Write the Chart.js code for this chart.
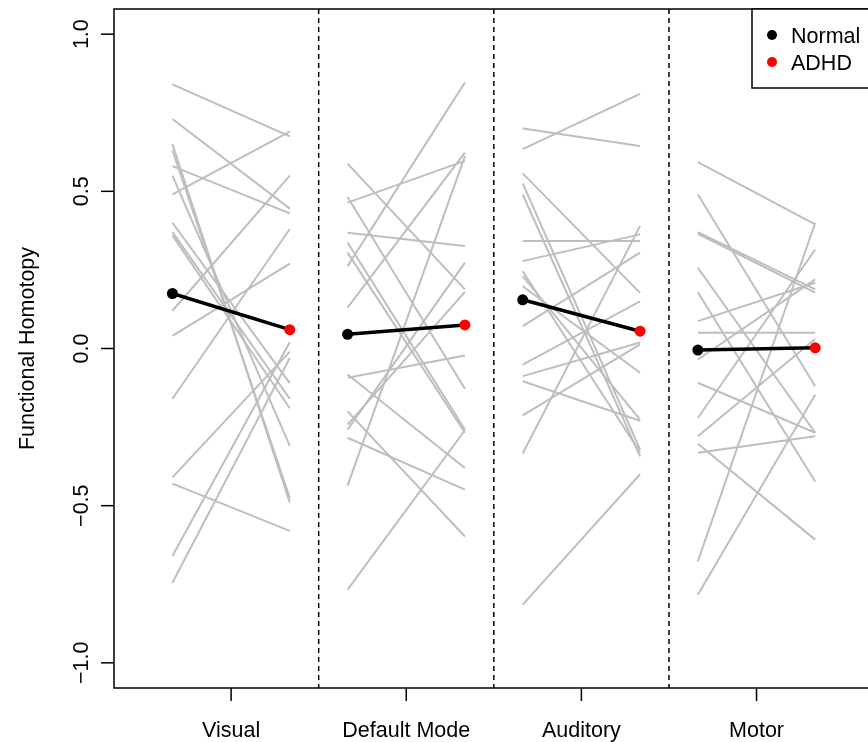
<!DOCTYPE html>
<html>
<head>
<meta charset="utf-8">
<script src="https://cdn.jsdelivr.net/npm/chart.js@4.4.0/dist/chart.umd.min.js"></script>
<style>
  html, body { margin: 0; padding: 0; background: #fff; overflow: hidden; }
  canvas { display: block; }
</style>
</head>
<body>
<canvas id="c" width="868" height="742"></canvas>
<script>
// Networks along the x axis
const networks = ['Visual', 'Default Mode', 'Auditory', 'Motor'];
const yTicks = [-1.0, -0.5, 0.0, 0.5, 1.0];
const yTickLabels = ['\u22121.0', '\u22120.5', '0.0', '0.5', '1.0'];

// Paired functional homotopy values (Normal -> ADHD) for each network
const visualNormal = [0.84, 0.73, 0.65, 0.63, 0.58, 0.55, 0.49, 0.40, 0.37, 0.36, 0.12, 0.04, -0.16, -0.41, -0.43, -0.66, -0.745];
const visualADHD   = [0.675, 0.445, -0.49, -0.475, 0.43, -0.31, 0.69, -0.11, -0.16, -0.19, 0.55, 0.27, 0.38, -0.01, -0.58, 0.02, -0.03];

const defaultNormal = [0.588, 0.482, 0.464, 0.368, 0.337, 0.305, 0.262, 0.13, -0.083, -0.093, -0.2, -0.242, -0.258, -0.284, -0.436, -0.767];
const defaultADHD   = [0.188, -0.128, 0.597, 0.326, -0.258, -0.268, 0.846, 0.623, -0.38, -0.022, -0.598, 0.18, 0.273, -0.449, 0.612, -0.26];

const auditoryNormal = [0.70, 0.634, 0.557, 0.525, 0.49, 0.342, 0.278, 0.246, 0.23, 0.198, 0.071, -0.051, -0.088, -0.104, -0.213, -0.334, -0.815];
const auditoryADHD   = [0.644, 0.81, 0.177, -0.322, -0.343, 0.342, 0.363, -0.33, -0.226, -0.077, 0.305, 0.15, 0.019, -0.23, 0.013, 0.39, -0.40];

const motorNormal = [0.593, 0.49, 0.37, 0.365, 0.257, 0.179, 0.087, 0.05, -0.035, -0.109, -0.221, -0.279, -0.303, -0.332, -0.677, -0.783];
const motorADHD   = [0.395, -0.12, 0.188, 0.178, -0.268, -0.423, 0.209, 0.05, 0.22, -0.268, 0.315, 0.03, -0.608, -0.279, 0.40, -0.147];

// Group means
const normalMean = [0.175, 0.045, 0.155, -0.005];
const adhdMean   = [0.06, 0.075, 0.055, 0.002];

const pairs = [
  [visualNormal, visualADHD],
  [defaultNormal, defaultADHD],
  [auditoryNormal, auditoryADHD],
  [motorNormal, motorADHD]
];

const OFF = 0.335;          // horizontal offset of the two groups from the network centre
const FONT = '"Liberation Sans", Arial, Helvetica, sans-serif';
const FONT_SIZE = 21.5;

const datasets = [];
// mean lines, drawn on top
networks.forEach((n, i) => {
  datasets.push({
    data: [{ x: i + 1 - OFF, y: normalMean[i] }, { x: i + 1 + OFF, y: adhdMean[i] }],
    showLine: true,
    borderColor: '#000',
    borderWidth: 3.5,
    pointRadius: 5.5,
    pointBorderWidth: 0,
    pointBackgroundColor: ['#000', '#ff0000'],
    order: 0
  });
});
// individual subject lines
pairs.forEach(([a, b], i) => {
  a.forEach((v, k) => {
    datasets.push({
      data: [{ x: i + 1 - OFF, y: v }, { x: i + 1 + OFF, y: b[k] }],
      showLine: true,
      borderColor: '#bebebe',
      borderWidth: 2,
      pointRadius: 0,
      order: 1
    });
  });
});

const frame = {
  id: 'frame',
  beforeDatasetsDraw(chart) {
    const { ctx, chartArea: a, scales: { x } } = chart;
    ctx.save();
    ctx.strokeStyle = '#000';
    ctx.lineWidth = 1.5;
    ctx.setLineDash([5, 4]);
    [1.5, 2.5, 3.5].forEach(v => {
      const px = x.getPixelForValue(v);
      ctx.beginPath();
      ctx.moveTo(px, a.top);
      ctx.lineTo(px, a.bottom);
      ctx.stroke();
    });
    ctx.restore();
  },
  afterDraw(chart) {
    const { ctx, chartArea: a, scales: { x, y } } = chart;
    const R = chart.width + 5;   // box and legend run off the right edge
    ctx.save();
    ctx.strokeStyle = '#000';
    ctx.lineWidth = 1.5;
    ctx.setLineDash([]);
    // plot box
    ctx.beginPath();
    ctx.moveTo(R, a.top);
    ctx.lineTo(a.left, a.top);
    ctx.lineTo(a.left, a.bottom);
    ctx.lineTo(R, a.bottom);
    ctx.stroke();

    ctx.fillStyle = '#000';
    ctx.font = FONT_SIZE + 'px ' + FONT;
    // y ticks and rotated labels
    yTicks.forEach((v, k) => {
      const py = y.getPixelForValue(v);
      ctx.beginPath();
      ctx.moveTo(a.left - 13, py);
      ctx.lineTo(a.left, py);
      ctx.stroke();
      ctx.save();
      ctx.translate(a.left - 26, py);
      ctx.rotate(-Math.PI / 2);
      ctx.textAlign = 'center';
      ctx.textBaseline = 'alphabetic';
      ctx.fillText(yTickLabels[k], 0, 0);
      ctx.restore();
    });
    // x ticks and labels
    networks.forEach((n, i) => {
      const px = x.getPixelForValue(i + 1);
      ctx.beginPath();
      ctx.moveTo(px, a.bottom);
      ctx.lineTo(px, a.bottom + 13);
      ctx.stroke();
      ctx.textAlign = 'center';
      ctx.textBaseline = 'alphabetic';
      ctx.fillText(n, px, a.bottom + 49);
    });
    // y axis title
    ctx.save();
    ctx.translate(34, (a.top + a.bottom) / 2);
    ctx.rotate(-Math.PI / 2);
    ctx.textAlign = 'center';
    ctx.textBaseline = 'alphabetic';
    ctx.fillText('Functional Homotopy', 0, 0);
    ctx.restore();

    // legend
    const lx = 752, ly = a.top, lh = 79;
    ctx.fillStyle = '#fff';
    ctx.fillRect(lx, ly, R - lx, lh);
    ctx.beginPath();
    ctx.moveTo(R, ly);
    ctx.lineTo(lx, ly);
    ctx.lineTo(lx, ly + lh);
    ctx.lineTo(R, ly + lh);
    ctx.stroke();
    const items = [['Normal', '#000'], ['ADHD', '#ff0000']];
    items.forEach(([t, c], k) => {
      const cy = ly + 26 + k * 27;
      ctx.fillStyle = c;
      ctx.beginPath();
      ctx.arc(lx + 20, cy, 5, 0, Math.PI * 2);
      ctx.fill();
      ctx.fillStyle = '#000';
      ctx.textAlign = 'left';
      ctx.textBaseline = 'alphabetic';
      ctx.fillText(t, lx + 39, cy + 8);
    });
    ctx.restore();
  }
};

new Chart(document.getElementById('c'), {
  type: 'scatter',
  data: { datasets },
  options: {
    responsive: false,
    animation: false,
    events: [],
    layout: { padding: { left: 114, top: 9, right: 0, bottom: 54 } },
    plugins: { legend: { display: false }, tooltip: { enabled: false } },
    elements: { line: { tension: 0, borderCapStyle: 'butt' } },
    scales: {
      x: { type: 'linear', min: 0.3314, max: 4.605, display: false },
      y: { type: 'linear', min: -1.08, max: 1.08, display: false }
    }
  },
  plugins: [frame]
});
</script>
</body>
</html>
